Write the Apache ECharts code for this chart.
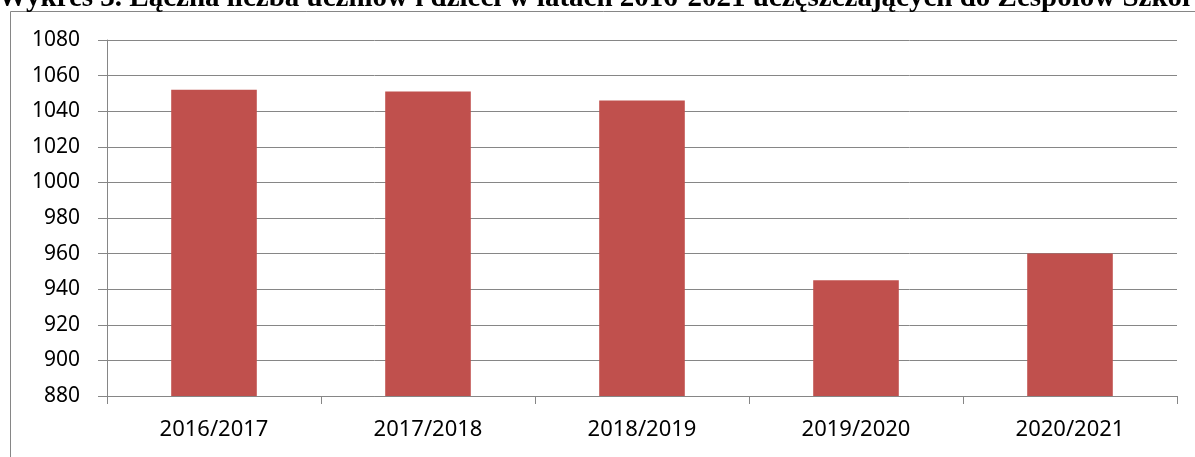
<!DOCTYPE html>
<html>
<head>
<meta charset="utf-8">
<script src="https://cdn.jsdelivr.net/npm/echarts@6/dist/echarts.min.js"></script>
<style>
  html, body { margin: 0; padding: 0; background: #fff; overflow: hidden; }
  #wykres { width: 1195px; height: 457px; }
</style>
</head>
<body>
<div id="wykres"></div>
<script>
var lata = ["2016/2017", "2017/2018", "2018/2019", "2019/2020", "2020/2021"];
var liczbaUczniow = [1052, 1051, 1046, 945, 960];
var tytul = "Wykres 3. Łączna liczba uczniów i dzieci w latach 2016-2021 uczęszczających do Zespołów Szkół w Gminie";

var myChart = echarts.init(document.getElementById("wykres"));
myChart.setOption({
  animation: false,
  graphic: [
    {
      // ramka wykresu (ucięta z prawej i u dołu)
      type: "rect",
      shape: { x: 10.5, y: 11.5, width: 1300, height: 600 },
      style: { fill: null, stroke: "#868686", lineWidth: 1 },
      silent: true
    },
    {
      type: "text",
      x: -2,
      y: 13,
      style: {
        text: tytul,
        font: "bold 29px 'Liberation Serif'",
        fill: "#000",
        verticalAlign: "bottom"
      }
    }
  ],
  grid: {
    left: 107,
    right: 18,
    top: 40,
    bottom: 61,
    containLabel: false
  },
  xAxis: {
    type: "category",
    data: lata,
    axisLine: { lineStyle: { color: "#868686", width: 1 } },
    axisTick: { show: true, length: 8, lineStyle: { color: "#868686" } },
    axisLabel: {
      color: "#000",
      fontFamily: "Noto Sans",
      fontSize: 22,
      margin: 23
    }
  },
  yAxis: {
    type: "value",
    min: 880,
    max: 1080,
    interval: 20,
    axisLine: { show: true, lineStyle: { color: "#868686", width: 1 } },
    axisTick: { show: true, inside: false, length: 9, lineStyle: { color: "#868686" } },
    splitLine: { lineStyle: { color: "#868686", width: 1 } },
    axisLabel: {
      color: "#000",
      fontFamily: "Noto Sans",
      fontSize: 21,
      margin: 27,
      formatter: function (v) { return String(v); }
    }
  },
  series: [
    {
      name: "Liczba uczniów",
      type: "bar",
      barWidth: "40%",
      data: liczbaUczniow,
      itemStyle: { color: "#C0504D" }
    }
  ]
});
</script>
</body>
</html>
